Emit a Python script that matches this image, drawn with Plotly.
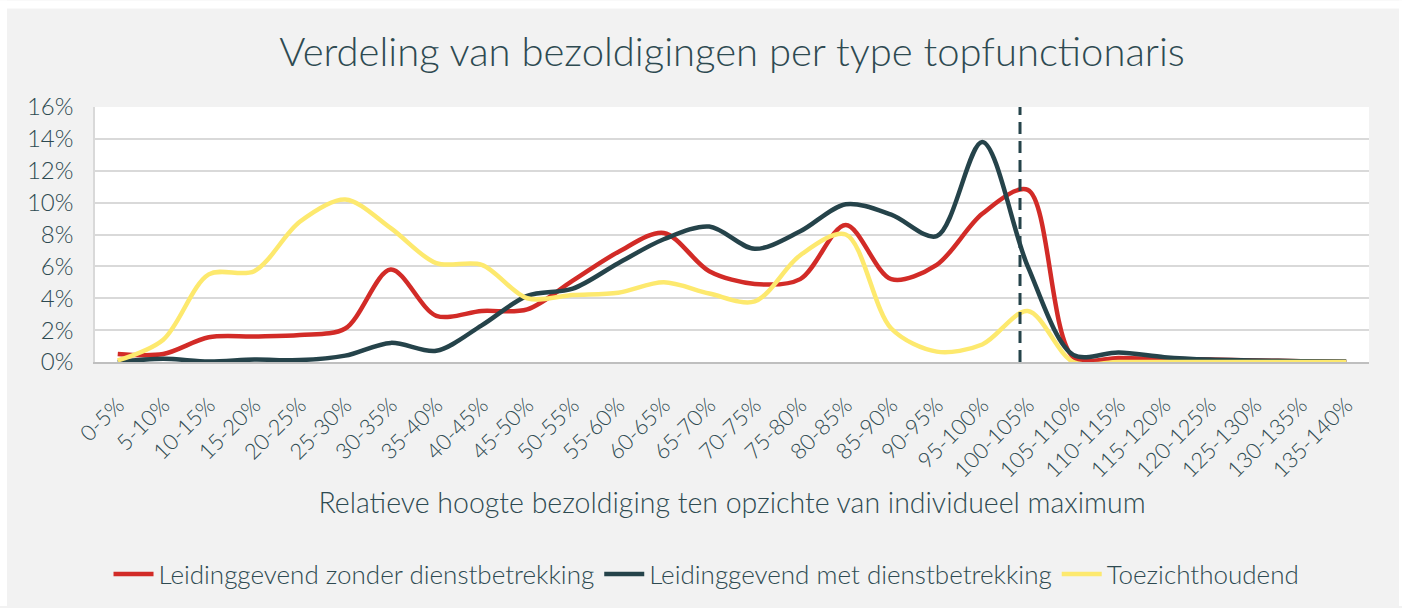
import plotly.graph_objects as go

categories = ["0-5%", "5-10%", "10-15%", "15-20%", "20-25%", "25-30%", "30-35%",
              "35-40%", "40-45%", "45-50%", "50-55%", "55-60%", "60-65%", "65-70%",
              "70-75%", "75-80%", "80-85%", "85-90%", "90-95%", "95-100%",
              "100-105%", "105-110%", "110-115%", "115-120%", "120-125%",
              "125-130%", "130-135%", "135-140%"]

zonder = [0.5, 0.5, 1.55, 1.6, 1.7, 2.1, 5.8, 2.9, 3.2, 3.3, 5.1, 6.9, 8.1, 5.7,
          4.9, 5.2, 8.6, 5.2, 6.1, 9.3, 10.8, 0.3, 0.25, 0.2, 0.15, 0.1, 0.05, 0.0]
met = [0.0, 0.2, 0.03, 0.15, 0.12, 0.4, 1.2, 0.7, 2.3, 4.15, 4.6, 6.2, 7.7, 8.5,
       7.1, 8.2, 9.9, 9.25, 7.9, 13.8, 6.0, 0.45, 0.6, 0.3, 0.15, 0.1, 0.05, 0.03]
toezicht = [0.1, 1.4, 5.5, 5.7, 8.8, 10.2, 8.4, 6.2, 6.1, 4.0, 4.2, 4.35, 5.0, 4.3,
            3.8, 6.7, 8.0, 2.1, 0.65, 1.1, 3.2, 0.0, 0.0, 0.0, 0.0, 0.0, 0.0, 0.0]

series_names = ["Leidinggevend zonder dienstbetrekking",
                "Leidinggevend met dienstbetrekking",
                "Toezichthoudend"]

max_marker_pos = 19.83  # position of the 100% maximum marker (category units)
y_ticks = [0, 2, 4, 6, 8, 10, 12, 14, 16]

RED = "#D22B27"
DARK = "#25434A"
YELLOW = "#FDE96E"
TEXT = "#2E4A51"
FONT = "Lato, 'Open Sans', sans-serif"

fig = go.Figure()
for name, vals, col in zip(series_names, [zonder, met, toezicht], [RED, DARK, YELLOW]):
    fig.add_trace(go.Scatter(
        x=list(range(len(categories))), y=vals, name=name, mode="lines",
        line=dict(color=col, width=4.5, shape="spline", smoothing=0.9),
        cliponaxis=False,
    ))

W, H = 1402, 608
L, R, T, B = 95, 33, 107, 245
pw = W - L - R
ph = H - T - B

def px_x(p):
    return (p - L) / pw

def px_y(p):
    return (H - B - p) / ph

shapes = [
    # white frame around the grey chart area
    dict(type="rect", xref="paper", yref="paper", x0=px_x(0), x1=px_x(7),
         y0=px_y(H), y1=px_y(0), fillcolor="white", line_width=0, layer="above"),
    dict(type="rect", xref="paper", yref="paper", x0=px_x(0), x1=px_x(W),
         y0=px_y(8), y1=px_y(0), fillcolor="white", line_width=0, layer="above"),
    dict(type="rect", xref="paper", yref="paper", x0=px_x(1399), x1=px_x(W),
         y0=px_y(H), y1=px_y(0), fillcolor="white", line_width=0, layer="above"),
    # dashed maximum marker
    dict(type="line", xref="x", yref="y", x0=max_marker_pos, x1=max_marker_pos,
         y0=0, y1=16, line=dict(color=DARK, width=3, dash="12px,7px"), layer="above"),
]

fig.update_layout(
    width=W, height=H,
    margin=dict(l=L, r=R, t=T, b=B, pad=0),
    paper_bgcolor="#F2F2F2",
    plot_bgcolor="white",
    font=dict(family=FONT, color=TEXT, size=20, weight=300),
    title=dict(text="Verdeling van bezoldigingen per type topfunctionaris",
               x=0.5, xref="paper", xanchor="center", y=1 - 52 / H, yanchor="middle",
               font=dict(size=40, color=TEXT, family=FONT, weight=300)),
    showlegend=True,
    legend=dict(orientation="h", x=0.48, xanchor="center", y=px_y(574), yanchor="middle",
                font=dict(size=26, color=TEXT, family=FONT, weight=300),
                bgcolor="rgba(0,0,0,0)", itemwidth=40, tracegroupgap=0),
    shapes=shapes,
)

fig.update_xaxes(
    tickmode="array", tickvals=list(range(len(categories))), ticktext=categories,
    range=[-0.5, len(categories) - 0.5], tickangle=-45,
    showgrid=False, zeroline=False, showline=True, linecolor="#BFBFBF", linewidth=1.5,
    ticks="", ticklabelstandoff=20,
    tickfont=dict(size=22, color=TEXT, family=FONT, weight=300),
    title=dict(text="Relatieve hoogte bezoldiging ten opzichte van individueel maximum",
               font=dict(size=28.5, color=TEXT, family=FONT, weight=300), standoff=12),
)
fig.update_yaxes(
    range=[0, 16], tickvals=y_ticks, ticktext=[f"{v}%" for v in y_ticks],
    showgrid=True, gridcolor="#D9D9D9", gridwidth=1.5, zeroline=False,
    showline=True, linecolor="#D9D9D9", linewidth=1.5, mirror=False,
    ticks="", ticklabelstandoff=15,
    tickfont=dict(size=24, color=TEXT, family=FONT, weight=300),
)

fig.write_html("out.html", config={"displayModeBar": False},
               post_script="document.body.style.margin='0';")
